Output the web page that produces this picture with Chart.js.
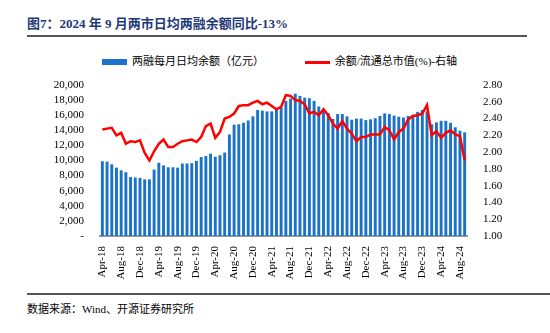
<!DOCTYPE html>
<html>
<head>
<meta charset="utf-8">
<script src="https://cdn.jsdelivr.net/npm/chart.js@4"></script>
<style>
  body { margin: 0; width: 550px; height: 333px; background: #fff; position: relative; overflow: hidden;
         font-family: "Liberation Serif", "Noto Sans CJK SC", serif; }
  #title { position: absolute; left: 27px; top: 13px; font-size: 13px; font-weight: bold; color: #1F3A78; white-space: nowrap; }
  .rule { position: absolute; left: 27px; width: 500px; height: 2px; background: #555; }
  #legend { position: absolute; top: 52px; left: 102px; font-size: 11px; white-space: nowrap; color: #000; }
  #legend span.item { display: inline-block; vertical-align: middle; }
  .swatch-bar { display: inline-block; width: 25px; height: 6px; background: #1a73c9; vertical-align: middle; margin-right: 5px; }
  .swatch-line { display: inline-block; width: 25px; height: 3px; background: #ff0000; vertical-align: middle; margin-right: 5px; }
  #source { position: absolute; left: 27px; top: 300px; font-size: 11px; color: #000; white-space: nowrap; }
  #wrap { position: absolute; left: 0; top: 70px; width: 550px; height: 220px; }
</style>
</head>
<body>
<div id="title">图7：2024 年 9 月两市日均两融余额同比-13%</div>
<div class="rule" style="top:35px"></div>
<div id="legend">
  <span class="item"><span class="swatch-bar"></span>两融每月日均余额（亿元）</span>
  <span class="item" style="margin-left:38px"><span class="swatch-line"></span>余额/流通总市值(%)-右轴</span>
</div>
<div id="wrap"><canvas id="marginChart"></canvas></div>
<div class="rule" style="top:293px; width:523px"></div>
<div id="source">数据来源：Wind、开源证券研究所</div>

<script>
// months Apr-18 .. Sep-24
const monthNames = ['Jan','Feb','Mar','Apr','May','Jun','Jul','Aug','Sep','Oct','Nov','Dec'];
const months = [];
for (let y = 18; y <= 24; y++) {
    for (let m = 0; m < 12; m++) {
        if (y === 18 && m < 3) continue;
        if (y === 24 && m > 8) continue;
        months.push(monthNames[m] + '-' + y);
    }
}

// 两融每月日均余额 (亿元)
const balance = [
    9900, 9850, 9500, 9050, 8700, 8450, 7800, 7750, 7700, 7500, 7500, 8800,
    9700, 9350, 9100, 9100, 9050, 9600, 9600, 9650, 9950, 10450, 10600, 10900,
    10500, 10700, 11050, 13450, 14750, 14800, 15000, 15300, 15850, 16700, 16600, 16500,
    16500, 16700, 17000, 17900, 18200, 18850, 18550, 18330, 18250, 17900, 17150, 16800,
    16300, 15500, 16150, 16150, 15850, 15400, 15550, 15550, 15350, 15450, 15600, 15900,
    16250, 16150, 15950, 15800, 15700, 15900, 16050, 16450, 16700, 16500, 14800, 15050,
    15260, 15260, 15000, 14400, 13950, 13730
];

// 余额/流通总市值 (%)
const ratio = [
    2.27, 2.28, 2.29, 2.20, 2.23, 2.10, 2.13, 2.12, 2.14, 1.99, 1.90, 2.01,
    2.10, 2.15, 2.06, 2.06, 2.10, 2.13, 2.14, 2.15, 2.12, 2.18, 2.31, 2.34,
    2.17, 2.24, 2.40, 2.42, 2.46, 2.55, 2.56, 2.56, 2.59, 2.61, 2.57, 2.59,
    2.55, 2.51, 2.54, 2.68, 2.67, 2.62, 2.61, 2.57, 2.46, 2.48, 2.44, 2.51,
    2.44, 2.34, 2.28, 2.37, 2.28, 2.22, 2.13, 2.18, 2.18, 2.21, 2.21, 2.21,
    2.30, 2.26, 2.15, 2.24, 2.28, 2.39, 2.43, 2.44, 2.46, 2.56, 2.20, 2.25,
    2.17, 2.23, 2.26, 2.21, 2.19, 1.90
];

const tickFont = { family: '"Liberation Serif", serif', size: 11 };

const ctx = document.getElementById('marginChart').getContext('2d');
const marginChart = new Chart(ctx, {
    data: {
        labels: months,
        datasets: [{
            type: 'line',
            label: '余额/流通总市值(%)-右轴',
            data: ratio,
            yAxisID: 'y1',
            borderColor: '#ff0000',
            borderWidth: 2.5,
            pointRadius: 0,
            tension: 0,
            order: 0
        }, {
            type: 'bar',
            label: '两融每月日均余额（亿元）',
            data: balance,
            yAxisID: 'y',
            backgroundColor: '#1a73c9',
            barPercentage: 0.62,
            categoryPercentage: 1,
            order: 1
        }]
    },
    options: {
        responsive: true,
        maintainAspectRatio: false,
        animation: false,
        layout: { padding: { top: 15, bottom: 0, left: 0, right: 0 } },
        plugins: { legend: { display: false }, tooltip: { enabled: false } },
        scales: {
            x: {
                grid: { display: false },
                border: { display: true, color: '#999', width: 2 },
                ticks: {
                    autoSkip: false, maxRotation: 90, minRotation: 90,
                    color: '#000', font: tickFont, padding: 2,
                    callback: function (v, i) { return i % 4 === 0 ? months[i] : ''; }
                },
                afterFit: function (s) { s.height = 54; }
            },
            y: {
                position: 'left', min: 0, max: 20000,
                grid: { display: false },
                border: { display: false },
                ticks: {
                    autoSkip: false, stepSize: 2000, color: '#000', font: tickFont, padding: 8,
                    callback: function (v) { return v === 0 ? '-' : v.toLocaleString('en-US'); }
                },
                afterFit: function (s) { s.width = 100; }
            },
            y1: {
                position: 'right', min: 1, max: 2.8,
                grid: { display: false },
                border: { display: false },
                ticks: {
                    autoSkip: false, stepSize: 0.2, color: '#000', font: tickFont, padding: 8,
                    callback: function (v) { return v.toFixed(2); }
                },
                afterFit: function (s) { s.width = 83; }
            }
        }
    }
});
</script>
</body>
</html>
